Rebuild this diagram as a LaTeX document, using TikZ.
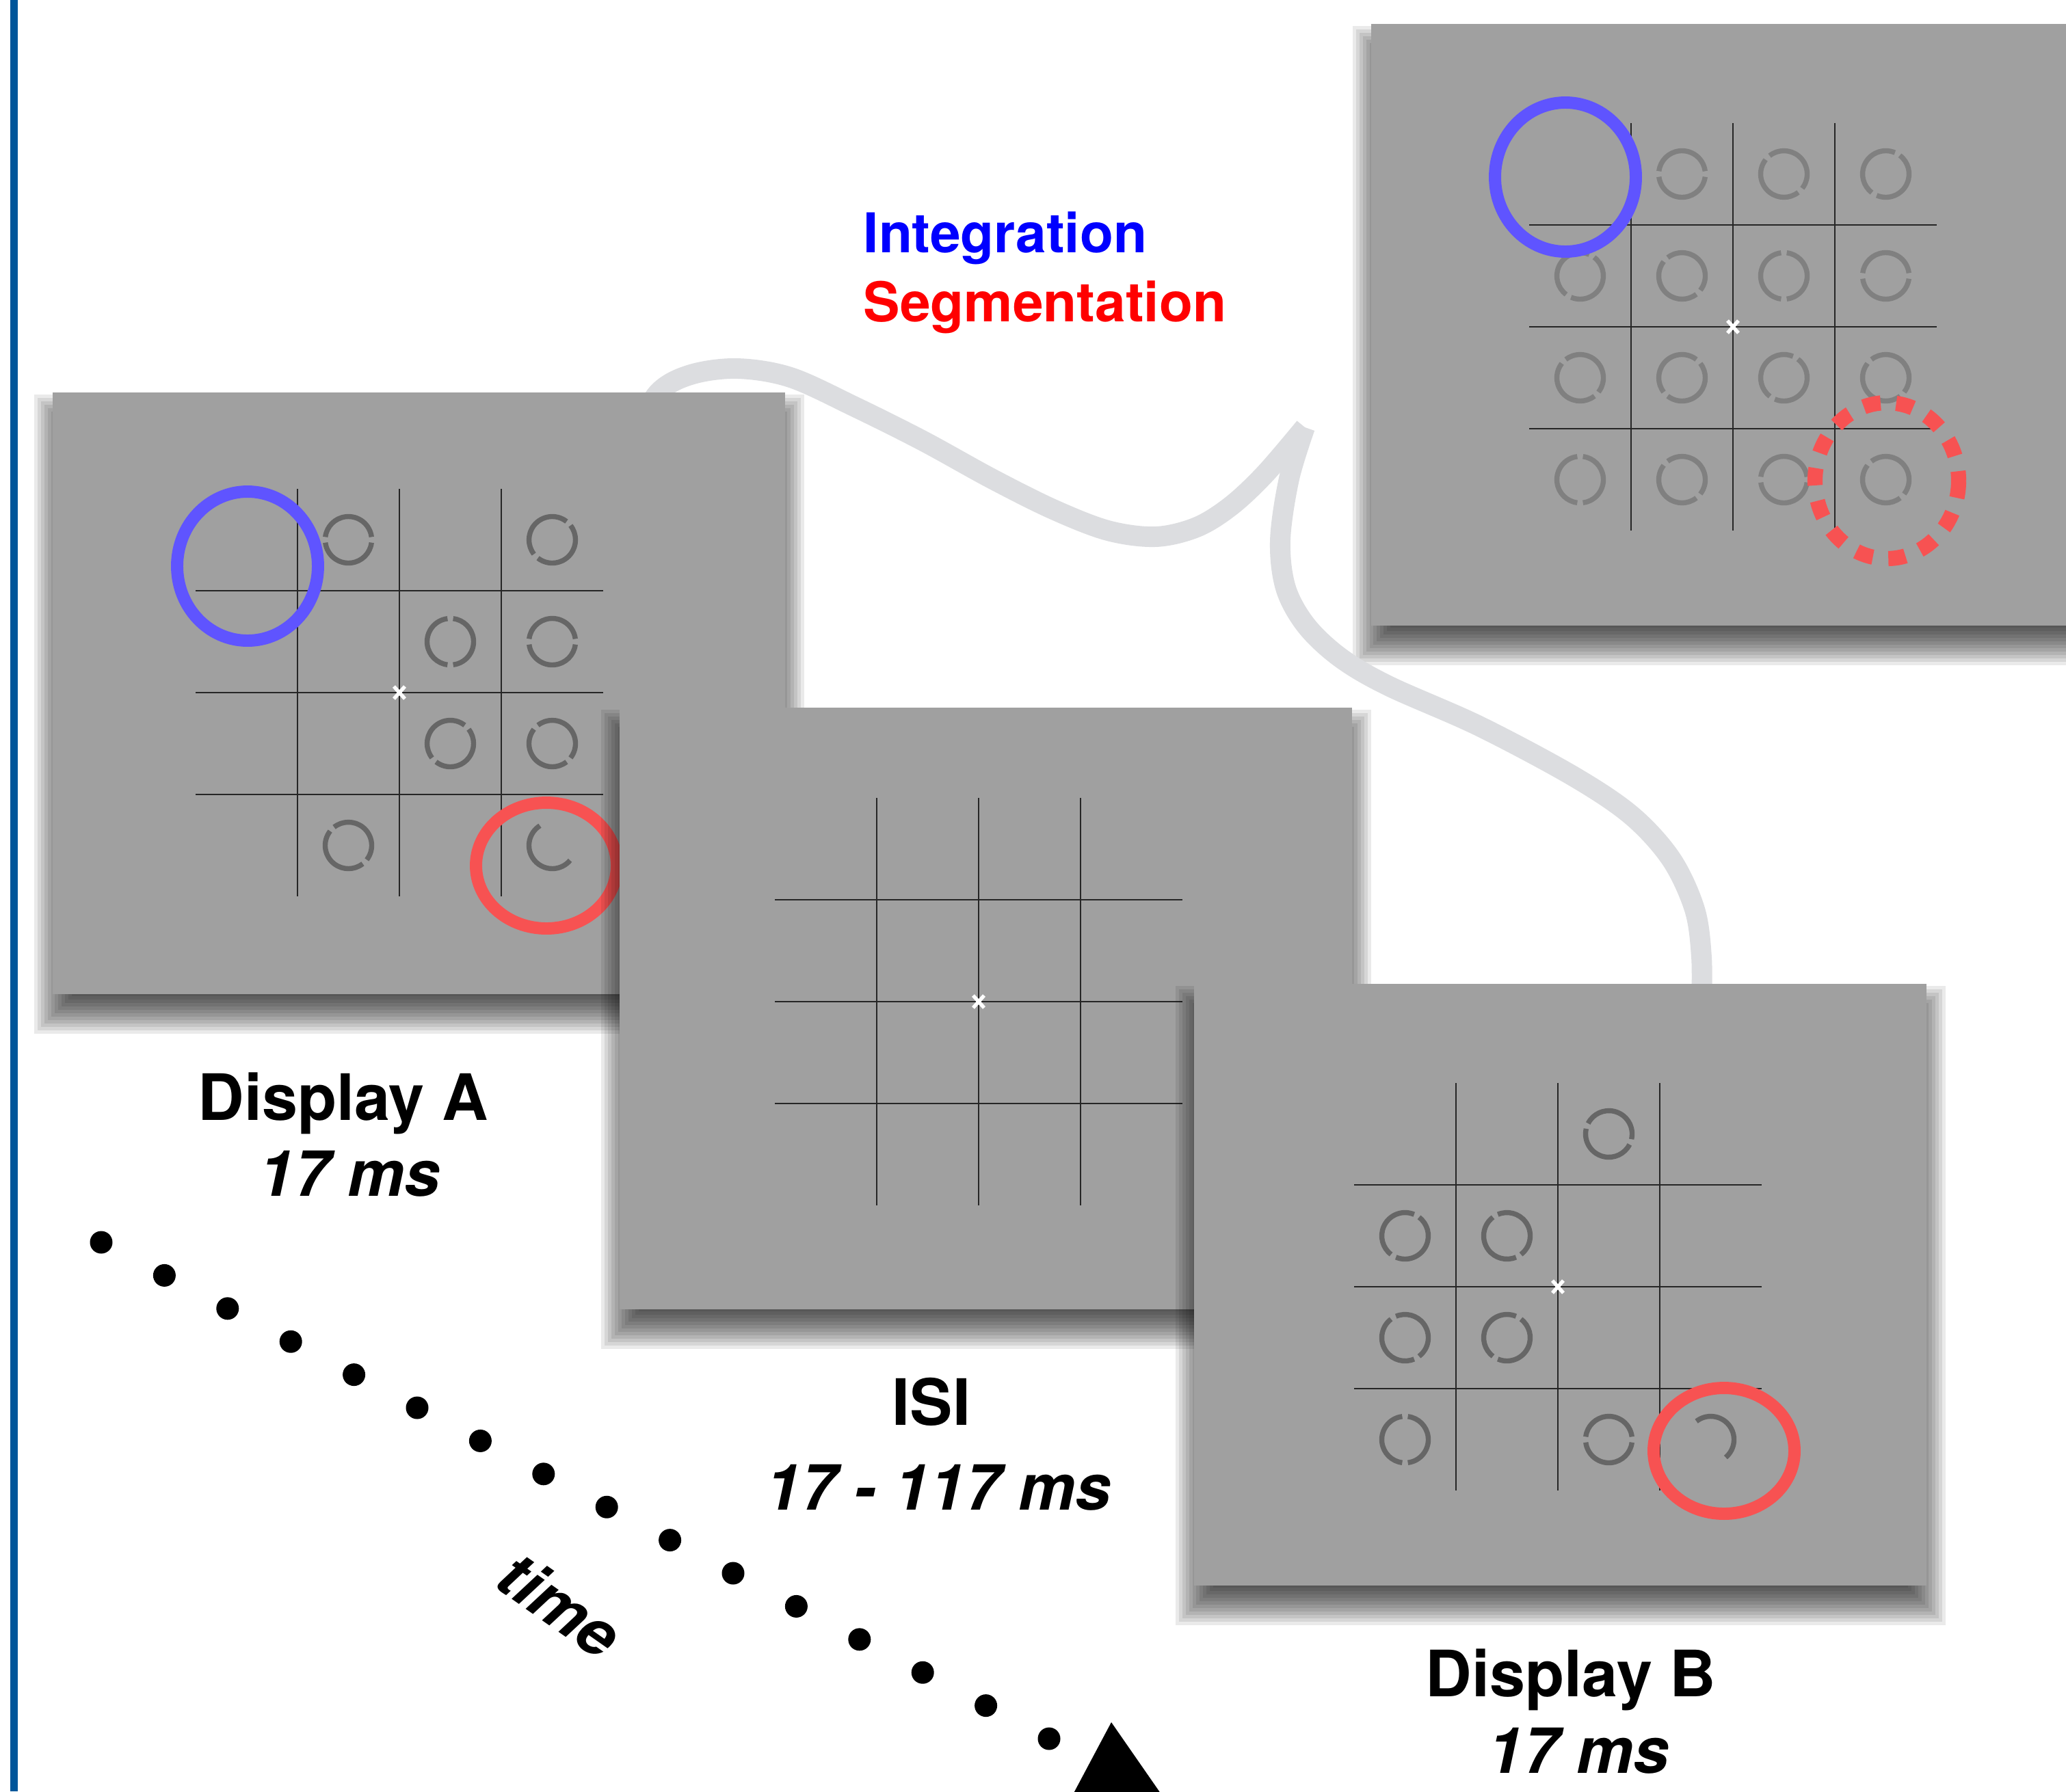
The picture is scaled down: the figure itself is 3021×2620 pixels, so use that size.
\documentclass[tikz,border=0pt]{standalone}
\usepackage{fontspec}
\setmainfont{TeX Gyre Heros}
\usetikzlibrary{calc}

\definecolor{panelgray}{RGB}{160,160,160}
\definecolor{ringgray}{RGB}{102,102,102}
\definecolor{ringlight}{RGB}{128,128,128}
\definecolor{cuegray}{RGB}{220,221,224}
\definecolor{intblue}{RGB}{95,84,255}
\definecolor{segred}{RGB}{247,82,82}
\definecolor{edgeblue}{RGB}{0,86,154}

% grey screen with a soft shadow, top-left corner given in px
\newcommand{\panel}[2]{%
	\foreach \k in {0,...,11}
		\fill[black, opacity=0.084] ({#1+27.5-5*\k},{#2+57.5-5*\k}) rectangle ({#1+1071-27.5+5*\k},{#2+880+2.5+5*\k});
	\fill[panelgray] (#1,#2) rectangle ({#1+1071},{#2+880});
}
\newcommand{\stimgrid}{%
	\foreach \t in {-149,0,149} {
		\draw[gridline] (\t,-298) -- (\t,298);
		\draw[gridline] (-298,\t) -- (298,\t);
	}
	\draw[fixmark] (-8,-9) -- (8,9) (8,-9) -- (-8,9);
}
% ring in cell (column, row) with two small gaps
\newcommand{\ring}[3]{%
	\draw[ringline] ({(#1-2.5)*149},{(#2-2.5)*149}) ++({-(#3+7)}:34) arc[start angle={-(#3+7)}, delta angle=-166, radius=34];
	\draw[ringline] ({(#1-2.5)*149},{(#2-2.5)*149}) ++({-(#3+187)}:34) arc[start angle={-(#3+187)}, delta angle=-166, radius=34];
}

\begin{document}
\begin{tikzpicture}[x=0.01cm, y=-0.01cm,
	gridline/.style={draw=black!85, line width=0.6pt},
	fixmark/.style={draw=white, line width=1.5pt},
	ringline/.style={draw=ringgray, line width=2.1pt},
	cue/.style={draw=cuegray, line width=8.5pt},
	intcircle/.style={draw=intblue, line width=5.1pt},
	segcircle/.style={draw=segred, line width=5.1pt},
	segdash/.style={draw=segred, line width=6.3pt, dash pattern=on 7.2pt off 6.5pt},
	lab/.style={anchor=base, inner sep=0pt, font=\fontsize{26.6}{32}\selectfont\bfseries},
	labit/.style={anchor=base, inner sep=0pt, font=\fontsize{26.6}{32}\selectfont\bfseries\itshape},
	key/.style={anchor=base west, inner sep=0pt, font=\fontsize{22.8}{28}\selectfont\bfseries}]
	\useasboundingbox (0,0) rectangle (3021,2620);
	\clip (0,0) rectangle (3021,2620);
	\fill[white] (0,0) rectangle (3021,2620);
	\fill[edgeblue] (15,0) rectangle (26,2620);

	\coordinate (fixA) at (584,1013);
	\coordinate (fixI) at (1431,1465);
	\coordinate (fixB) at (2278,1882);
	\coordinate (fixT) at (2534,478);

	% zoomed display
	\panel{2005}{35}
	\begin{scope}[shift={(fixT)}, ringline/.style={draw=ringlight, line width=2.1pt}]
		\stimgrid
		\ring{2}{1}{0} \ring{3}{1}{135} \ring{4}{1}{60}
		\ring{1}{2}{60} \ring{2}{2}{135} \ring{3}{2}{90} \ring{4}{2}{0}
		\ring{1}{3}{135} \ring{2}{3}{45} \ring{3}{3}{60} \ring{4}{3}{135}
		\ring{1}{4}{90} \ring{2}{4}{135} \ring{3}{4}{0} \ring{4}{4}{135}
		\draw[intcircle] (-245,-219) ellipse [x radius=103, y radius=109];
		\draw[segdash] (225,225) ellipse [x radius=105, y radius=114];
	\end{scope}

	% callout
	\draw[cue] plot[smooth, tension=0.55] coordinates {(925,640) (962,575) (1010,548) (1078,539) (1156,552) (1250,595) (1350,645) (1450,700) (1540,745) (1620,776) (1690,785) (1750,771) (1800,740) (1850,693) (1908,625)};
	\draw[cue] plot[smooth, tension=0.55] coordinates {(1908,625) (1885,700) (1872,790) (1880,860) (1910,915) (1960,962) (2030,1003) (2163,1062) (2300,1135) (2386,1193) (2444,1257) (2478,1330) (2488,1400) (2488,1470)};

	% display A
	\panel{77}{574}
	\begin{scope}[shift={(fixA)}]
		\stimgrid
		\ring{2}{1}{0} \ring{4}{1}{45}
		\ring{3}{2}{90} \ring{4}{2}{0}
		\ring{3}{3}{45} \ring{4}{3}{135}
		\ring{2}{4}{135}
		\draw[ringline] (223.5,223.5) ++(-122:34) arc[start angle=-122, end angle=-320, radius=34];
		\draw[intcircle] (-222,-185) ellipse [x radius=103, y radius=109];
		\draw[segcircle] (215,253) ellipse [x radius=103, y radius=92];
	\end{scope}

	% ISI
	\panel{906}{1035}
	\begin{scope}[shift={(fixI)}]
		\stimgrid
	\end{scope}

	% display B
	\panel{1746}{1439}
	\begin{scope}[shift={(fixB)}]
		\stimgrid
		\ring{3}{1}{160}
		\ring{1}{2}{60} \ring{2}{2}{120}
		\ring{1}{3}{120} \ring{2}{3}{60}
		\ring{1}{4}{90} \ring{3}{4}{0}
		\draw[ringline] (223.5,223.5) ++(50:34) arc[start angle=50, end angle=-128, radius=34];
		\draw[segcircle] (243,240) ellipse [x radius=103, y radius=92];
	\end{scope}

	\node[key, text=blue] (integ) at (1262,369) {Integration};
	\node[key, text=red] (segm) at (1262,470) {Segmentation};

	\node[lab] (dispA) at (502,1638) {Display A};
	\node[labit] (durA) at (511,1749) {17 ms};
	\node[lab] (isi) at (1362,2084) {ISI};
	\node[labit] (durI) at (1372,2208) {17 - 117 ms};
	\node[lab] (dispB) at (2297,2481) {Display B};
	\node[labit] (durB) at (2308,2593) {17 ms};

	% time line
	\foreach \i in {0,...,15}
		\fill ({148+92.4*\i},{1817+48.4*\i}) circle[radius=16.5];
	\node[labit, anchor=center, rotate=-35] (time) at (819,2347) {time};
	\fill (1625,2519) -- (1702,2630) -- (1566,2630) -- cycle;
\end{tikzpicture}
\end{document}
